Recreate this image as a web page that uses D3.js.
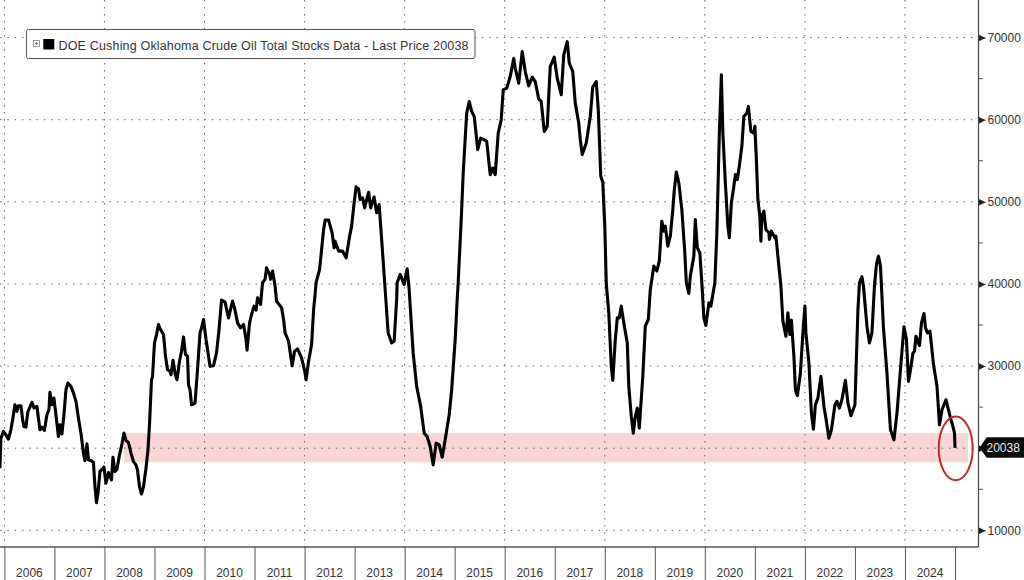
<!DOCTYPE html>
<html>
<head>
<meta charset="utf-8">
<script src="https://cdn.jsdelivr.net/npm/d3@7"></script>
<style>
  body { margin: 0; background: #fff; }
  svg { display: block; font-family: "Liberation Sans", sans-serif; }
</style>
</head>
<body>
<div id="chart"></div>
<script>
// weekly stocks, dates as decimal years
var stockDates = [
  2005.91,2005.93,2005.98,2006.03,2006.08,2006.13,2006.17,2006.21,2006.25,2006.28,2006.33,2006.37,2006.39,2006.43,2006.47,2006.51,2006.55,2006.59,2006.65,2006.68,2006.71,2006.75,2006.80,2006.85,2006.89,2006.91,2006.95,2006.99,
  2007.03,2007.08,2007.11,2007.15,2007.19,2007.23,2007.27,2007.33,2007.38,2007.43,2007.48,2007.53,2007.58,2007.61,2007.65,2007.68,2007.73,2007.78,2007.81,2007.84,2007.87,2007.91,2007.99,
  2008.03,2008.08,2008.14,2008.17,2008.21,2008.25,2008.30,2008.35,2008.39,2008.43,2008.48,2008.53,2008.58,2008.63,2008.66,2008.70,2008.74,2008.78,2008.83,2008.87,2008.90,2008.94,2008.96,
  2009.00,2009.04,2009.08,2009.12,2009.18,2009.22,2009.26,2009.31,2009.33,2009.37,2009.41,2009.45,2009.50,2009.54,2009.58,2009.62,2009.66,2009.68,2009.71,2009.74,2009.81,2009.86,2009.91,2009.94,2009.98,
  2010.03,2010.08,2010.11,2010.18,2010.24,2010.29,2010.34,2010.41,2010.48,2010.56,2010.60,2010.66,2010.72,2010.78,2010.83,2010.85,2010.90,2010.94,2010.99,
  2011.03,2011.06,2011.12,2011.16,2011.21,2011.24,2011.30,2011.32,2011.36,2011.41,2011.44,2011.54,2011.58,2011.61,2011.68,2011.75,2011.80,2011.86,2011.94,
  2012.01,2012.03,2012.08,2012.14,2012.18,2012.21,2012.23,2012.30,2012.38,2012.41,2012.48,2012.55,2012.59,2012.61,2012.68,2012.76,2012.83,2012.90,2012.94,2012.99,
  2013.03,2013.08,2013.11,2013.16,2013.20,2013.28,2013.32,2013.39,2013.44,2013.49,2013.54,2013.61,2013.67,2013.74,2013.79,2013.84,2013.85,2013.91,2013.99,
  2014.05,2014.09,2014.17,2014.24,2014.32,2014.39,2014.45,2014.51,2014.57,2014.63,2014.69,2014.75,2014.81,2014.89,2014.94,
  2015.01,2015.05,2015.07,2015.14,2015.17,2015.24,2015.29,2015.34,2015.39,2015.43,2015.46,2015.52,2015.59,2015.64,2015.71,2015.76,2015.81,2015.87,2015.93,2015.97,
  2016.04,2016.11,2016.15,2016.18,2016.21,2016.28,2016.35,2016.41,2016.48,2016.55,2016.61,2016.68,2016.73,2016.79,2016.85,2016.91,2016.99,
  2017.05,2017.13,2017.18,2017.25,2017.29,2017.36,2017.41,2017.48,2017.51,2017.55,2017.63,2017.71,2017.76,2017.83,2017.87,2017.92,2017.96,
  2018.00,2018.03,2018.08,2018.13,2018.16,2018.21,2018.25,2018.29,2018.33,2018.38,2018.45,2018.48,2018.53,2018.57,2018.61,2018.65,2018.69,2018.76,2018.81,2018.87,2018.91,2018.98,
  2019.04,2019.09,2019.14,2019.18,2019.21,2019.26,2019.31,2019.36,2019.39,2019.43,2019.48,2019.54,2019.60,2019.63,2019.68,2019.71,2019.78,2019.81,2019.85,2019.90,2019.94,2019.98,
  2020.02,2020.08,2020.12,2020.20,2020.24,2020.29,2020.33,2020.36,2020.41,2020.46,2020.49,2020.53,2020.58,2020.61,2020.65,2020.69,2020.74,2020.78,2020.84,2020.87,2020.92,2020.98,
  2021.00,2021.03,2021.06,2021.10,2021.12,2021.14,2021.18,2021.22,2021.28,2021.29,2021.33,2021.40,2021.42,2021.48,2021.52,2021.56,2021.62,2021.66,2021.70,2021.73,2021.78,2021.81,2021.85,2021.91,2021.96,
  2022.00,2022.02,2022.08,2022.13,2022.17,2022.21,2022.26,2022.32,2022.38,2022.42,2022.48,2022.53,2022.60,2022.64,2022.69,2022.74,2022.81,2022.86,2022.92,
  2023.00,2023.06,2023.09,2023.14,2023.17,2023.24,2023.29,2023.34,2023.39,2023.43,2023.47,2023.51,2023.53,2023.57,2023.64,2023.71,2023.78,2023.84,2023.91,2023.98,
  2024.03,2024.07,2024.11,2024.16,2024.19,2024.22,2024.29,2024.33,2024.38,2024.41,2024.45,2024.50,2024.57,2024.64,2024.69,2024.74,2024.82,2024.91,2024.95,2024.99,2025.00
];
var stockValues = [
  17560,21220,22040,21630,21100,22240,23660,25290,24480,25170,25170,23260,22650,22560,24480,25010,25580,24880,25090,23660,22240,22560,22160,24070,24680,26800,25290,26100,
  24070,21420,22850,21750,24070,27120,27940,27530,26720,25700,23660,21830,19390,18490,20530,18580,18490,18250,15320,13370,14510,17150,17680,
  15730,17030,16130,18900,17150,17440,19190,20530,21830,20940,20690,19390,18370,17970,17350,15320,14420,15320,17560,19800,22850,28340,28670,
  32820,33840,35060,34450,33840,31190,29560,29360,28950,30700,29160,28340,30580,31800,33550,31400,31190,27730,27120,25290,25490,29560,34040,34650,35670,
  33230,31190,29970,30050,31600,34450,38030,37790,35870,37910,37090,35260,34650,35060,33230,31930,35260,36280,37300,
  36810,38320,37500,40150,40560,41970,41160,40560,41570,39750,37910,37090,35670,34040,33020,30050,31800,32090,30990,
  29160,28340,30580,32620,36890,38720,40150,41770,46630,47770,47770,46230,44400,45210,44000,44000,43190,45820,47040,49870,
  51820,51570,50280,50480,49260,51170,49260,50600,48660,49670,45420,39340,34040,32820,33020,38110,40150,41160,39950,
  41850,39340,31600,27530,25090,21830,21420,20200,17970,20610,20410,18900,21020,24070,27120,
  33230,38110,40150,49060,53510,60810,62220,61010,60400,58170,56350,57770,57570,57360,53310,54120,53310,58380,60000,63640,
  63840,65260,66500,67490,66270,64450,68300,65870,64130,65180,64650,62510,62220,58580,59190,66480,67610,
  65060,63040,67890,69510,66880,65870,62020,59590,57570,55750,57160,60400,63970,64650,61210,53110,52380,
  47040,40030,36480,29970,28260,33230,35870,35870,37300,35260,32820,27530,23870,21830,23870,24880,22440,28750,34860,35670,39330,42180,
  41570,42790,47640,46430,47040,44600,45820,49060,51490,53640,52300,49060,43800,40150,38840,40960,43390,47850,44400,43800,40150,35870,
  34940,37700,37300,40150,46230,58380,65460,58380,52300,47040,45620,49870,51900,53310,52710,54410,56760,60400,60810,61620,58580,58380,
  59190,55140,50280,48250,45210,48250,48860,46630,46230,45420,46430,45620,45820,42180,39750,35470,33630,36480,33840,35590,31190,27120,26390,29160,34040,
  37300,34040,30380,24270,22320,25290,26100,28750,25090,23660,21220,22240,25290,25700,24880,25900,28260,25490,23950,
  25290,36890,40150,40880,39750,34860,32820,34040,39750,42380,43390,42180,39750,34650,29160,22240,21020,24270,29560,34770,
  33230,28140,29560,31600,31800,33630,32490,35260,36400,34650,34040,34250,30180,27530,22850,24680,25900,23660,22850,21830,20038
];

var yearLabels = [2006,2007,2008,2009,2010,2011,2012,2013,2014,2015,2016,2017,2018,2019,2020,2021,2022,2023,2024];
var yearTicks = yearLabels.concat([2025]);
var gridYears = [2006,2008,2010,2012,2014,2016,2018,2020,2022,2024];
var majorTicks = [10000,20000,30000,40000,50000,60000,70000];
var minorTicks = [15000,25000,35000,45000,55000,65000];
var bandLow = 18290, bandHigh = 21830, bandStart = 2008.39;
var lastPrice = 20038;
var legendText = "DOE Cushing Oklahoma Crude Oil Total Stocks Data - Last Price 20038";

var width = 1024, height = 580, plotRight = 978.5, plotBottom = 547;

var x = d3.scaleLinear().domain([2006, 2025]).range([4.4, 955]);
var y = d3.scaleLinear().domain([10000, 70000]).range([530.3, 37.6]);

var svg = d3.select("#chart").append("svg")
  .attr("width", width)
  .attr("height", height);

// pink support band
svg.append("rect")
  .attr("x", x(bandStart))
  .attr("y", y(bandHigh))
  .attr("width", 968 - x(bandStart))
  .attr("height", y(bandLow) - y(bandHigh))
  .attr("fill", "#f9d6d4");

// dotted grid
svg.append("g").selectAll("line")
  .data(majorTicks)
  .enter().append("line")
  .attr("x1", 0)
  .attr("x2", plotRight)
  .attr("y1", function(d) { return y(d); })
  .attr("y2", function(d) { return y(d); })
  .attr("stroke", "#666")
  .attr("stroke-dasharray", "1.5 5.8");

svg.append("g").selectAll("line")
  .data(gridYears)
  .enter().append("line")
  .attr("x1", function(d) { return x(d); })
  .attr("x2", function(d) { return x(d); })
  .attr("y1", 0)
  .attr("y2", plotBottom)
  .attr("stroke", "#666")
  .attr("stroke-dasharray", "1.5 5.5");

// stocks line
var line = d3.line()
  .x(function(d) { return x(d[0]); })
  .y(function(d) { return y(d[1]); });

svg.append("path")
  .datum(d3.zip(stockDates, stockValues))
  .attr("d", line)
  .attr("fill", "none")
  .attr("stroke", "#000")
  .attr("stroke-width", 3.1)
  .attr("stroke-linejoin", "round");

// red ring around the last print
svg.append("ellipse")
  .attr("cx", x(2025) + 0.7)
  .attr("cy", y(lastPrice) + 0.5)
  .attr("rx", 17)
  .attr("ry", 31.8)
  .attr("fill", "none")
  .attr("stroke", "#bf2a2e")
  .attr("stroke-width", 2);

// bottom axis, year dividers with labels between them
var xAxis = d3.axisBottom(x)
  .tickValues(yearTicks)
  .tickSize(height - plotBottom)
  .tickFormat("");

var xg = svg.append("g")
  .attr("transform", "translate(0," + plotBottom + ")")
  .call(xAxis);
xg.select(".domain").remove();
xg.selectAll("line").attr("stroke", "#555");

svg.append("line")
  .attr("x1", 0)
  .attr("x2", plotRight)
  .attr("y1", plotBottom)
  .attr("y2", plotBottom)
  .attr("stroke", "#555")
  .attr("stroke-width", 1.4);

svg.append("g").selectAll("text")
  .data(yearLabels)
  .enter().append("text")
  .attr("x", function(d) { return x(d + 0.5); })
  .attr("y", 577)
  .attr("text-anchor", "middle")
  .attr("font-size", 12)
  .attr("fill", "#333")
  .text(function(d) { return d; });

// right axis
var yAxis = d3.axisRight(y)
  .tickValues(majorTicks)
  .tickSize(7)
  .tickPadding(2)
  .tickFormat(function(d) { return d; });

var yg = svg.append("g")
  .attr("transform", "translate(" + plotRight + ",0)")
  .call(yAxis);
yg.select(".domain").remove();
yg.selectAll("line").attr("stroke", "#333");
yg.selectAll("text").attr("font-size", 12).attr("font-family", "Liberation Sans").attr("fill", "#333");

// small arrowheads on the labelled ticks
yg.selectAll(".tick").append("path")
  .attr("d", "M0,-3.5L7,0L0,3.5Z")
  .attr("fill", "#222");

svg.append("g").selectAll("line")
  .data(minorTicks)
  .enter().append("line")
  .attr("x1", plotRight)
  .attr("x2", plotRight + 4.5)
  .attr("y1", function(d) { return y(d); })
  .attr("y2", function(d) { return y(d); })
  .attr("stroke", "#555");

svg.append("line")
  .attr("x1", plotRight)
  .attr("x2", plotRight)
  .attr("y1", 0)
  .attr("y2", plotBottom)
  .attr("stroke", "#444")
  .attr("stroke-width", 1.2);

// last price tag
var tagY = y(lastPrice);
svg.append("path")
  .attr("d", "M979.5," + tagY + "L986.7," + (tagY - 10.5) + "L1024," + (tagY - 10.5) + "L1024," + (tagY + 10) + "L986.7," + (tagY + 10) + "Z")
  .attr("fill", "#0a0a0a");
svg.append("text")
  .attr("x", 986.5)
  .attr("y", tagY + 4.5)
  .attr("font-size", 12)
  .attr("fill", "#eee")
  .text(lastPrice);

// legend box
var legend = svg.append("g");
legend.append("rect")
  .attr("x", 26.5)
  .attr("y", 29.5)
  .attr("width", 448.5)
  .attr("height", 29)
  .attr("rx", 2)
  .attr("fill", "#fff")
  .attr("stroke", "#555")
  .attr("stroke-width", 1);
legend.append("rect")
  .attr("x", 33.5)
  .attr("y", 40.5)
  .attr("width", 6)
  .attr("height", 6)
  .attr("fill", "none")
  .attr("stroke", "#888")
  .attr("stroke-width", 0.8);
legend.append("path")
  .attr("d", "M35,43.5H38M36.5,42V45")
  .attr("stroke", "#666")
  .attr("stroke-width", 0.8);
legend.append("rect")
  .attr("x", 43.3)
  .attr("y", 39)
  .attr("width", 11)
  .attr("height", 10.5)
  .attr("fill", "#000");
legend.append("text")
  .attr("x", 58.5)
  .attr("y", 50)
  .attr("font-family", "Liberation Sans")
  .attr("font-size", 12.5)
  .attr("textLength", 410)
  .attr("fill", "#333")
  .text(legendText);
</script>
</body>
</html>
